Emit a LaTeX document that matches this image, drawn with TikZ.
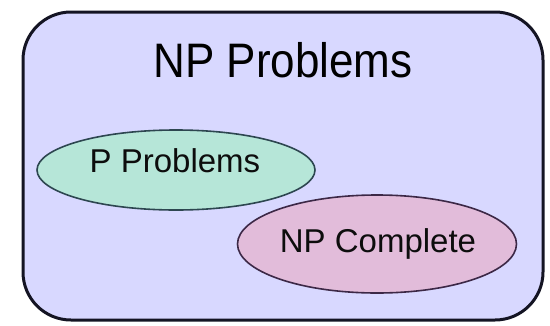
\documentclass[tikz,border=0pt]{standalone}
\usepackage{fontspec}
\setmainfont{Liberation Sans}
\usetikzlibrary{shapes.geometric}
\definecolor{npbg}{RGB}{216,216,255}
\definecolor{pfill}{RGB}{182,230,216}
\definecolor{cfill}{RGB}{226,188,218}
\definecolor{edge}{RGB}{20,20,35}
\definecolor{pedge}{RGB}{45,70,80}
\definecolor{cedge}{RGB}{60,40,70}
\begin{document}
\begin{tikzpicture}[x=1pt,y=-1pt,
  setbox/.style={draw=edge,line width=3pt,fill=npbg,rounded corners=48pt},
  pset/.style={ellipse,draw=pedge,line width=1.6pt,fill=pfill,minimum width=278pt,minimum height=80pt,inner sep=0pt},
  cset/.style={ellipse,draw=cedge,line width=1.6pt,fill=cfill,minimum width=279pt,minimum height=98pt,inner sep=0pt},
  lbl/.style={text=black!95,font=\fontsize{33}{36}\selectfont}]
\useasboundingbox (0,0) rectangle (550,325);
\fill[white] (0,0) rectangle (550,325);
\draw[setbox] (23,12) rectangle (543,320);
\node[anchor=base,font=\fontsize{44}{48}\selectfont,text=black] (np) at (283,77) {\scalebox{1}[1.1]{NP Problems}};
\node[pset] (p) at (176,170) {};
\node[lbl,anchor=base] (pl) at (175,172) {P Problems};
\node[cset] (c) at (377,244) {};
\node[lbl,anchor=base] (cl) at (378,252) {NP Complete};
\end{tikzpicture}
\end{document}
